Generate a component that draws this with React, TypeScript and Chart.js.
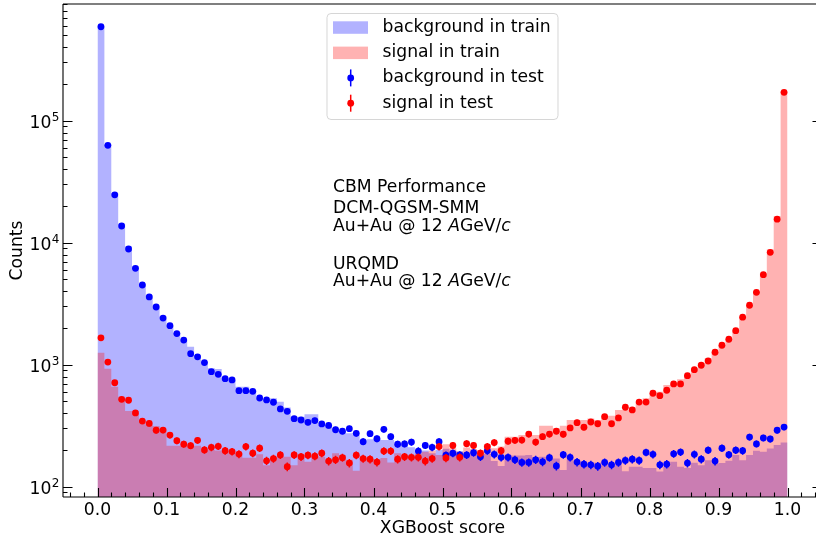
import React, { useEffect, useRef } from 'react';
import { Chart, registerables } from 'chart.js';

Chart.register(...registerables);

// ---------- data ----------
const BIN_WIDTH = 0.01;

const bgTrain = [
  600000, 64000, 25500, 14300, 9300, 6400, 4600, 3700, 3050, 2500,
  2100, 1820, 1600, 1400, 1200, 1060, 935, 920, 770, 750,
  660, 660, 620, 530, 515, 530, 496, 445, 375, 375,
  392, 392, 320, 320, 303, 283, 274, 265, 240, 245,
  249, 241, 241, 220, 220, 210, 194, 198, 188, 200,
  205, 194, 195, 185, 182, 180, 185, 162, 148, 182,
  180, 180, 182, 175, 176, 170, 170, 137, 166, 160,
  158, 155, 158, 150, 148, 150, 134, 146, 146, 142,
  142, 133, 145, 160, 146, 142, 157, 150, 165, 154,
  156, 163, 182, 165, 182, 197, 193, 206, 220, 230,
];

const sigTrain = [
  1250, 925, 660, 547, 417, 417, 341, 320, 315, 300,
  217, 217, 217, 217, 217, 196, 200, 198, 195, 190,
  190, 173, 173, 184, 150, 176, 178, 176, 150, 176,
  160, 176, 176, 166, 188, 182, 166, 135, 176, 170,
  168, 172, 158, 188, 182, 180, 188, 193, 198, 182,
  223, 207, 193, 209, 204, 200, 223, 207, 213, 257,
  257, 265, 265, 265, 316, 316, 301, 316, 352, 352,
  352, 363, 352, 382, 382, 426, 426, 447, 498, 530,
  590, 600, 681, 700, 760, 822, 935, 1030, 1130, 1275,
  1450, 1640, 1920, 2500, 3100, 4000, 5600, 8800, 16500, 175000,
];

const bgTest = [
  589000, 62800, 24700, 13700, 8880, 6160, 4500, 3590, 2970, 2410,
  2090, 1800, 1590, 1230, 1160, 1040, 877, 834, 768, 750,
  612, 612, 605, 533, 514, 492, 434, 415, 361, 352,
  337, 348, 327, 318, 293, 285, 299, 274, 234, 272,
  247, 295, 257, 223, 224, 232, 196, 218, 210, 234,
  181, 188, 182, 182, 190, 176, 197, 184, 174, 174,
  166, 158, 158, 166, 160, 173, 148, 183, 174, 159,
  153, 151, 147, 158, 151, 158, 164, 168, 164, 191,
  184, 151, 153, 186, 192, 156, 184, 168, 199, 162,
  207, 183, 199, 197, 255, 224, 251, 246, 290, 308,
];

const sigTest = [
  1660, 1050, 711, 520, 511, 402, 345, 330, 290, 291,
  265, 238, 223, 217, 240, 200, 210, 214, 197, 194,
  185, 213, 188, 207, 163, 170, 182, 146, 182, 176,
  181, 178, 188, 162, 166, 173, 156, 181, 170, 168,
  159, 196, 196, 168, 176, 174, 174, 162, 170, 213,
  172, 218, 174, 225, 218, 188, 213, 230, 197, 236,
  240, 241, 270, 232, 257, 270, 285, 269, 303, 335,
  307, 339, 328, 375, 328, 366, 448, 426, 494, 494,
  583, 557, 617, 695, 695, 813, 911, 989, 1072, 1265,
  1443, 1616, 1900, 2450, 3070, 3920, 5470, 8340, 15600, 171000,
];

const xTickValues = [0, 0.1, 0.2, 0.3, 0.4, 0.5, 0.6, 0.7, 0.8, 0.9, 1.0];
const yTickExponents = [2, 3, 4, 5];
const legendOrder = ['background in train', 'signal in train', 'background in test', 'signal in test'];
const annotationLines: { segs: [string, boolean][]; yFrac: number }[] = [
  { segs: [['CBM Performance', false]], yFrac: 0.6268 },
  { segs: [['DCM-QGSM-SMM', false]], yFrac: 0.5842 },
  { segs: [['Au+Au @ 12 ', false], ['A', true], ['GeV/', false], ['c', true]], yFrac: 0.5477 },
  { segs: [['URQMD', false]], yFrac: 0.4706 },
  { segs: [['Au+Au @ 12 ', false], ['A', true], ['GeV/', false], ['c', true]], yFrac: 0.4361 },
];

const FONT_FAMILY = '"DejaVu Sans", sans-serif';
const FS = 17.2;

const centers = bgTrain.map((_, i) => +((i + 0.5) * BIN_WIDTH).toFixed(4));
const edges = Array.from({ length: bgTrain.length + 1 }, (_, i) => +(i * BIN_WIDTH).toFixed(4));
const toXY = (arr: number[]) => arr.map((v, i) => ({ x: centers[i], y: v }));
// step histogram: value of bin i spans [edges[i], edges[i+1]]
const toSteps = (arr: number[]) => edges.map((e, i) => ({ x: e, y: arr[Math.min(i, arr.length - 1)] }));

const decorPlugin = {
  id: 'decor',
  beforeDatasetDraw(chart: any, args: any) {
    const ds = chart.data.datasets[args.index];
    if (ds.type !== 'scatter') return;
    const { ctx, chartArea } = chart;
    const xs = chart.scales.x;
    const ys = chart.scales.y;
    ctx.save();
    ctx.beginPath();
    ctx.rect(chartArea.left, chartArea.top, chartArea.right - chartArea.left, chartArea.bottom - chartArea.top);
    ctx.clip();
    ctx.strokeStyle = ds.borderColor;
    ctx.lineWidth = 1.5;
    ctx.beginPath();
    ds.data.forEach((p: any) => {
      const e = Math.sqrt(p.y);
      const px = xs.getPixelForValue(p.x);
      ctx.moveTo(px, ys.getPixelForValue(p.y + e));
      ctx.lineTo(px, ys.getPixelForValue(Math.max(p.y - e, ys.min)));
    });
    ctx.stroke();
    ctx.restore();
  },
  afterDraw(chart: any) {
    const { ctx, chartArea } = chart;
    const xs = chart.scales.x;
    const ys = chart.scales.y;
    const { left, right, top, bottom } = chartArea;
    ctx.save();
    // spines
    ctx.strokeStyle = '#000';
    ctx.lineWidth = 1.1;
    ctx.beginPath();
    ctx.moveTo(left, top); ctx.lineTo(right, top);
    ctx.moveTo(left, top); ctx.lineTo(left, bottom);
    ctx.moveTo(left, bottom); ctx.lineTo(right, bottom);
    ctx.moveTo(right, top); ctx.lineTo(right, bottom);
    ctx.stroke();
    // x ticks (inward)
    ctx.beginPath();
    for (let k = -2; k <= 52; k++) {
      const v = k * 0.02;
      const isMajor = k % 5 === 0 && k >= 0 && k <= 50;
      const px = Math.round(xs.getPixelForValue(v)) + 0.5;
      if (px < left || px > right) continue;
      const len = isMajor ? 9 : 4.5;
      ctx.moveTo(px, bottom); ctx.lineTo(px, bottom - len);
    }
    // y ticks (inward)
    for (let e = 1; e <= 5; e++) {
      for (let m = 1; m <= 9; m++) {
        const v = m * Math.pow(10, e);
        if (v < ys.min || v > ys.max) continue;
        const py = Math.round(ys.getPixelForValue(v)) + 0.5;
        const len = m === 1 ? 9.5 : 4.5;
        ctx.moveTo(left, py); ctx.lineTo(left + len, py);
        ctx.moveTo(right, py); ctx.lineTo(right - len, py);
      }
    }
    ctx.stroke();
    // y tick labels 10^n
    ctx.fillStyle = '#000';
    ctx.textBaseline = 'alphabetic';
    yTickExponents.forEach((ex) => {
      const py = ys.getPixelForValue(Math.pow(10, ex));
      const base = py + 7.5;
      const rightEdge = left - 3.5;
      ctx.font = `${(FS * 0.7).toFixed(1)}px ${FONT_FAMILY}`;
      ctx.textAlign = 'right';
      const expStr = String(ex);
      const ew = ctx.measureText(expStr).width;
      ctx.fillText(expStr, rightEdge, base - 7);
      ctx.font = `${FS}px ${FONT_FAMILY}`;
      ctx.fillText('10', rightEdge - ew - 0.5, base);
    });
    // annotations
    ctx.textAlign = 'left';
    ctx.textBaseline = 'middle';
    const ax = left + 0.3557 * (right - left);
    annotationLines.forEach((line) => {
      let cx = ax;
      const cy = bottom - line.yFrac * (bottom - top);
      line.segs.forEach(([t, it]) => {
        ctx.font = `${it ? 'italic ' : ''}${FS}px ${FONT_FAMILY}`;
        ctx.fillText(t, cx, cy);
        cx += ctx.measureText(t).width;
      });
    });
    // legend
    const lx = 327, ly = 13.5, lw = 231, lh = 106;
    ctx.beginPath();
    (ctx as any).roundRect(lx, ly, lw, lh, 4);
    ctx.fillStyle = 'rgba(255,255,255,0.8)';
    ctx.fill();
    ctx.strokeStyle = 'rgba(204,204,204,0.8)';
    ctx.lineWidth = 1;
    ctx.stroke();
    legendOrder.forEach((label, i) => {
      const ds = chart.data.datasets.find((d: any) => d.label === label);
      if (!ds) return;
      const ry = 27.3 + i * 25.3;
      if (ds.type === 'line') {
        ctx.fillStyle = ds.backgroundColor;
        ctx.fillRect(333, ry - 6, 35, 12.5);
      } else {
        ctx.strokeStyle = ds.borderColor;
        ctx.lineWidth = 1.5;
        ctx.beginPath();
        ctx.moveTo(350.7, ry - 8.5); ctx.lineTo(350.7, ry + 8.5);
        ctx.stroke();
        ctx.fillStyle = ds.backgroundColor;
        ctx.beginPath();
        ctx.arc(350.7, ry, 3.4, 0, Math.PI * 2);
        ctx.fill();
      }
      ctx.fillStyle = '#000';
      ctx.font = `${FS}px ${FONT_FAMILY}`;
      ctx.textAlign = 'left';
      ctx.textBaseline = 'middle';
      ctx.fillText(label, 382.5, ry);
    });
    ctx.restore();
  },
};

export default function App() {
  const ref = useRef<HTMLCanvasElement>(null);
  useEffect(() => {
    if (!ref.current) return;
    const histStyle = {
      type: 'line',
      stepped: 'before',
      fill: 'start',
      pointRadius: 0,
      borderWidth: 1,
      borderColor: 'rgba(0,0,0,0)',
      tension: 0,
    };
    const chart = new Chart(ref.current, {
      type: 'line',
      data: {
        datasets: [
          {
            type: 'scatter',
            label: 'signal in test',
            data: toXY(sigTest),
            backgroundColor: '#ff0000',
            borderColor: '#ff0000',
            pointRadius: 3.4,
            pointBorderWidth: 0,
            order: 0,
          } as any,
          {
            type: 'scatter',
            label: 'background in test',
            data: toXY(bgTest),
            backgroundColor: '#0000ff',
            borderColor: '#0000ff',
            pointRadius: 3.4,
            pointBorderWidth: 0,
            order: 1,
          } as any,
          {
            ...histStyle,
            label: 'signal in train',
            data: toSteps(sigTrain),
            backgroundColor: 'rgba(255,0,0,0.3)',
            order: 2,
          } as any,
          {
            ...histStyle,
            label: 'background in train',
            data: toSteps(bgTrain),
            backgroundColor: 'rgba(0,0,255,0.3)',
            order: 3,
          } as any,
        ],
      },
      options: {
        responsive: false,
        devicePixelRatio: 1,
        animation: false,
        events: [],
        layout: { padding: { left: 0, top: 4, right: 8, bottom: 0 } },
        plugins: { legend: { display: false }, tooltip: { enabled: false } },
        scales: {
          x: {
            type: 'linear',
            min: -0.05,
            max: 1.05,
            offset: false,
            grid: { display: false, drawTicks: false, offset: false },
            border: { display: false },
            afterBuildTicks: (s: any) => { s.ticks = xTickValues.map((v) => ({ value: v })); },
            afterFit: (s: any) => { s.height = 45; },
            ticks: {
              autoSkip: false,
              maxRotation: 0,
              padding: 3,
              color: '#000',
              font: { family: FONT_FAMILY, size: FS },
              callback: (v: any) => Number(v).toFixed(1),
            },
            title: {
              display: true,
              text: 'XGBoost score',
              color: '#000',
              font: { family: FONT_FAMILY, size: FS },
              padding: { top: 0, bottom: 3 },
            },
          },
          y: {
            type: 'logarithmic',
            min: 82.3,
            max: 905000,
            grid: { display: false, drawTicks: false },
            border: { display: false },
            afterBuildTicks: (s: any) => { s.ticks = yTickExponents.map((e) => ({ value: Math.pow(10, e) })); },
            afterFit: (s: any) => { s.width = 63; },
            ticks: { display: false },
            title: {
              display: true,
              text: 'Counts',
              color: '#000',
              font: { family: FONT_FAMILY, size: FS },
              padding: { top: 7, bottom: 0 },
            },
          },
        },
      } as any,
      plugins: [decorPlugin],
    });
    return () => chart.destroy();
  }, []);
  return (
    <div style={{ position: 'fixed', left: 0, top: 0, width: 816, height: 542, overflow: 'hidden', background: '#fff' }}>
      <canvas ref={ref} width={830} height={542} style={{ display: 'block', width: 830, height: 542 }} />
    </div>
  );
}
